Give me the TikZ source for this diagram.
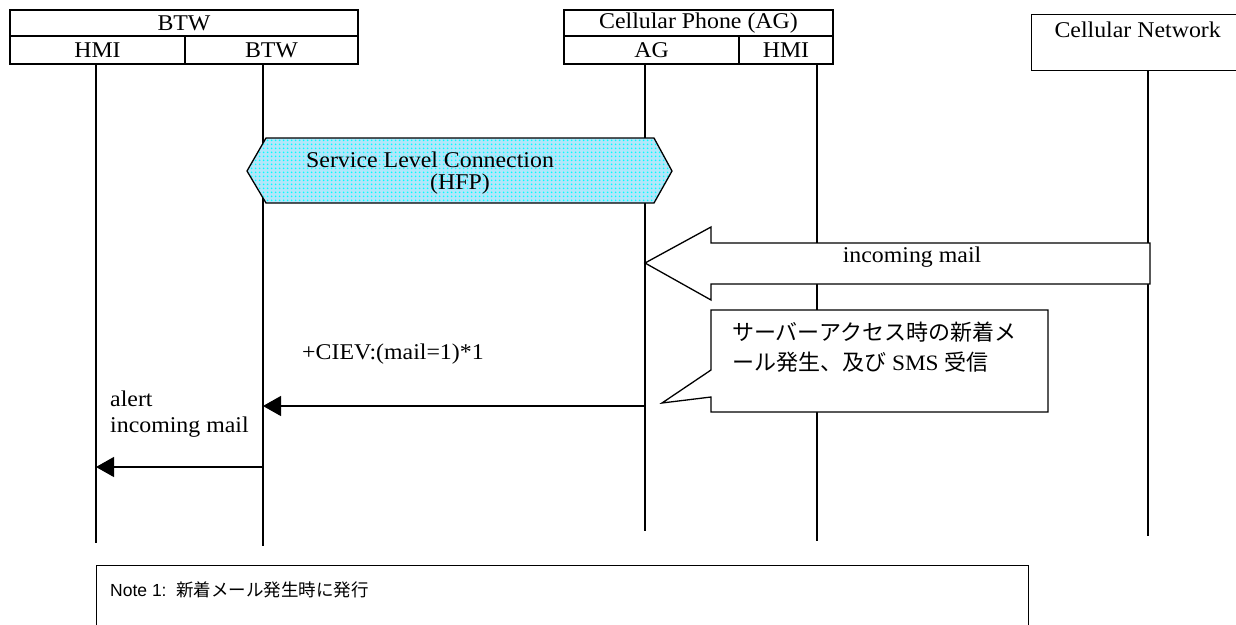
\documentclass[tikz,border=0pt]{standalone}
\usepackage{fontspec}
\setmainfont{Liberation Serif}[FakeStretch=1.06]
\newfontfamily\jpfont{Noto Sans CJK JP}
\newfontfamily\notefont{Liberation Sans}
\usetikzlibrary{arrows.meta,patterns.meta}

\begin{document}
\begin{tikzpicture}[x=1pt,y=-1pt,
  box/.style={draw, line width=1.3pt, inner sep=0pt,
    font=\fontsize{22.5}{24}\selectfont},
  life/.style={line width=1.3pt},
  msg/.style={line width=1.3pt, -{Triangle[length=18pt,width=20pt]}},
  lbl/.style={font=\fontsize{22.5}{26}\selectfont, inner sep=0pt},
  outline/.style={line width=1.3pt, line join=miter},
]
\useasboundingbox (0,0) rectangle (1236,624);

% entity headers
\node[box, minimum width=348pt, minimum height=26pt] (btw)  at (184,23)    {BTW};
\node[box, minimum width=175pt, minimum height=28pt] (bhmi) at (97.5,50)   {HMI};
\node[box, minimum width=173pt, minimum height=28pt] (bbtw) at (271.5,50)  {BTW};
\node[box, minimum width=269pt, minimum height=26pt] (cp)   at (698.5,23)  {Cellular Phone (AG)};
\node[box, minimum width=175pt, minimum height=28pt] (ag)   at (651.5,50)  {AG};
\node[box, minimum width=94pt,  minimum height=28pt] (chmi) at (786,50)    {HMI};
\node[box, minimum width=212pt, minimum height=56pt, anchor=north west] (cn) at (1031,14) {};
\node[lbl, anchor=north] (cnlbl) at ([yshift=-8pt]cn.north) {Cellular Network};

% lifelines
\coordinate (hmiEnd)  at (96,543);
\coordinate (btwEnd)  at (263,546);
\coordinate (agEnd)   at (645,531);
\coordinate (chmiEnd) at (817,541);
\coordinate (cnEnd)   at (1148,536);
\draw[life] (hmiEnd  |- bhmi.south) -- (hmiEnd);
\draw[life] (btwEnd  |- bbtw.south) -- (btwEnd);
\draw[life] (agEnd   |- ag.south)   -- (agEnd);
\draw[life] (chmiEnd |- chmi.south) -- (chmiEnd);
\draw[life] (cnEnd   |- cn.south)   -- (cnEnd);

% service level connection hexagon
\path[fill=cyan!30] (247,171) -- (266,138) -- (654,138) -- (672,171) -- (654,203) -- (266,203) -- cycle;
\path[pattern={Dots[distance=4pt,radius=1.2pt]}, pattern color=cyan]
  (247,171) -- (266,138) -- (654,138) -- (672,171) -- (654,203) -- (266,203) -- cycle;
\draw[outline] (247,171) -- (266,138) -- (654,138) -- (672,171) -- (654,203) -- (266,203) -- cycle;
\node[lbl, anchor=west] (slc) at (306,160) {Service Level Connection};
\node[lbl, anchor=west] (hfp) at (430,184) {(HFP)};

% incoming mail block arrow
\draw[outline, fill=white] (645,263) -- (711,227) -- (711,243) -- (1150,243) -- (1150,284)
  -- (711,284) -- (711,300) -- cycle;
\node[lbl] (im) at (912,257) {incoming mail};

% callout
\draw[outline, fill=white] (711,310) -- (1048,310) -- (1048,412) -- (711,412) -- (711,397)
  -- (662,403) -- (711,370) -- cycle;
\node[anchor=north west, inner sep=0pt, align=left,
  font=\fontsize{22}{30}\selectfont] (callout) at (732,322)
  {\jpfont サーバーアクセス時の新着メ\\
   \jpfont ール発生、及び\rmfamily\ SMS\ \jpfont 受信};

% messages
\coordinate (c1) at (645,406);
\coordinate (c2) at (263,406);
\draw[msg] (c1) -- (c2);
\node[lbl, anchor=west] (ciev) at (302,354) {+CIEV:(mail=1)*1};

\coordinate (a1) at (263,467);
\coordinate (a2) at (96,467);
\draw[msg] (a1) -- (a2);
\node[lbl, anchor=west, align=left] (alert) at (110,414) {alert\\incoming mail};

% note
\node[draw, line width=1.3pt, minimum width=932pt, minimum height=80pt, anchor=north west]
  (note) at (96,565) {};
\node[anchor=west, inner sep=0pt, font=\fontsize{17.5}{20}\selectfont] (notetxt) at (110,590)
  {\notefont Note 1:\ \ \jpfont 新着メール発生時に発行};
\end{tikzpicture}
\end{document}
